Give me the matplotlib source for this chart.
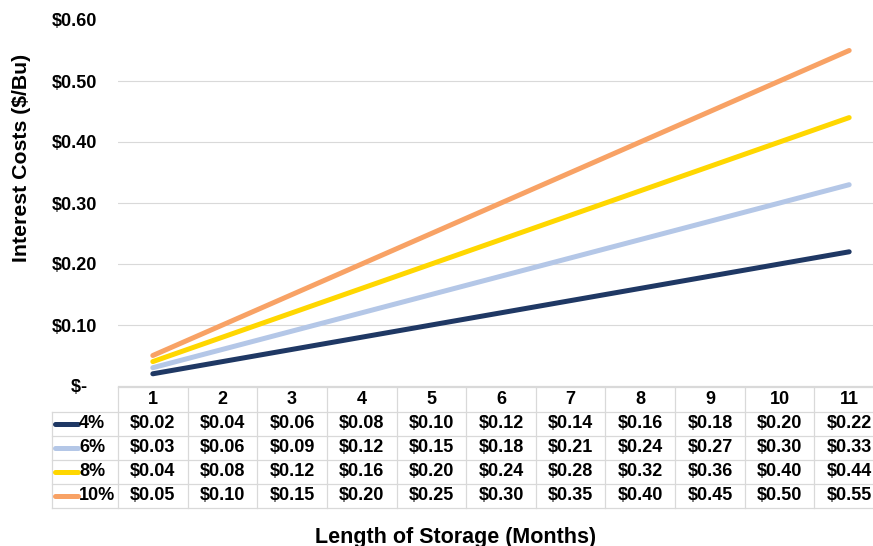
import matplotlib.pyplot as plt
from matplotlib.lines import Line2D

plt.rcParams['font.family'] = ['Liberation Sans', 'DejaVu Sans']
plt.rcParams['font.weight'] = 'bold'

months = [1, 2, 3, 4, 5, 6, 7, 8, 9, 10, 11]
rates = ['4%', '6%', '8%', '10%']
cost_4 = [0.02, 0.04, 0.06, 0.08, 0.10, 0.12, 0.14, 0.16, 0.18, 0.20, 0.22]
cost_6 = [0.03, 0.06, 0.09, 0.12, 0.15, 0.18, 0.21, 0.24, 0.27, 0.30, 0.33]
cost_8 = [0.04, 0.08, 0.12, 0.16, 0.20, 0.24, 0.28, 0.32, 0.36, 0.40, 0.44]
cost_10 = [0.05, 0.10, 0.15, 0.20, 0.25, 0.30, 0.35, 0.40, 0.45, 0.50, 0.55]
series = [cost_4, cost_6, cost_8, cost_10]
colors = ['#1f3864', '#b4c7e7', '#ffd700', '#f8a265']
yticks = [0, 0.1, 0.2, 0.3, 0.4, 0.5, 0.6]
ytick_labels = ['$-  ', '$0.10', '$0.20', '$0.30', '$0.40', '$0.50', '$0.60']

W, H = 873, 546
fig = plt.figure(figsize=(W / 100, H / 100), dpi=100)

# plot area in pixel units (runs slightly past the right edge of the canvas)
left, right, top, bottom = 118, 884, 20, 386
ax = fig.add_axes([left / W, 1 - bottom / H, (right - left) / W, (bottom - top) / H])

for vals, c in zip(series, colors):
    ax.plot(months, vals, color=c, lw=3.6, solid_capstyle='round', zorder=3)

ax.set_xlim(0.5, 11.5)
ax.set_ylim(0, 0.6)
ax.set_yticks(yticks)
ax.set_yticklabels(ytick_labels, fontsize=13, fontweight='bold')
ax.set_xticks([])
ax.tick_params(axis='y', length=0, pad=15)
ax.grid(axis='y', color='#d9d9d9', lw=0.8)
ax.get_ygridlines()[-1].set_visible(False)
for s in ['top', 'right', 'left']:
    ax.spines[s].set_visible(False)
ax.spines['bottom'].set_color('#d9d9d9')

fig.text(22 / W, 1 - 158 / H, 'Interest Costs ($/Bu)', rotation=90, ha='center', va='center',
         fontsize=15.3, fontweight='bold')
fig.text(456 / W, 1 - 537 / H, 'Length of Storage (Months)', ha='center', va='center',
         fontsize=15.5, fontweight='bold')

# data table below the plot
grid_c = '#d9d9d9'
col_w = (right - left) / len(months)
row_edges = [387, 412, 436, 460, 484, 508]
key_left = 52


def fx(px):
    return px / W


def fy(py):
    return 1 - py / H


def hline(x0, x1, y):
    fig.add_artist(Line2D([fx(x0), fx(x1)], [fy(y), fy(y)], color=grid_c, lw=0.9))


def vline(x, y0, y1):
    fig.add_artist(Line2D([fx(x), fx(x)], [fy(y0), fy(y1)], color=grid_c, lw=0.9))


hline(left, right, row_edges[0])
for y in row_edges[1:]:
    hline(key_left, right, y)
vline(key_left, row_edges[1], row_edges[-1])
for i in range(len(months) + 1):
    vline(left + i * col_w, row_edges[0], row_edges[-1])

for i, m in enumerate(months):
    cx = left + (i + 0.5) * col_w
    fig.text(fx(cx), fy((row_edges[0] + row_edges[1]) / 2), str(m), ha='center', va='center',
             fontsize=13, fontweight='bold')

for r, (name, vals, c) in enumerate(zip(rates, series, colors)):
    cy = (row_edges[r + 1] + row_edges[r + 2]) / 2
    fig.add_artist(Line2D([fx(55), fx(78)], [fy(cy), fy(cy)], color=c, lw=3.6,
                          solid_capstyle='round'))
    fig.text(fx(79), fy(cy), name, ha='left', va='center', fontsize=13, fontweight='bold')
    for i, v in enumerate(vals):
        cx = left + (i + 0.5) * col_w
        fig.text(fx(cx), fy(cy), f'${v:.2f}', ha='center', va='center',
                 fontsize=13, fontweight='bold')

fig.savefig('out.png', dpi=100)
